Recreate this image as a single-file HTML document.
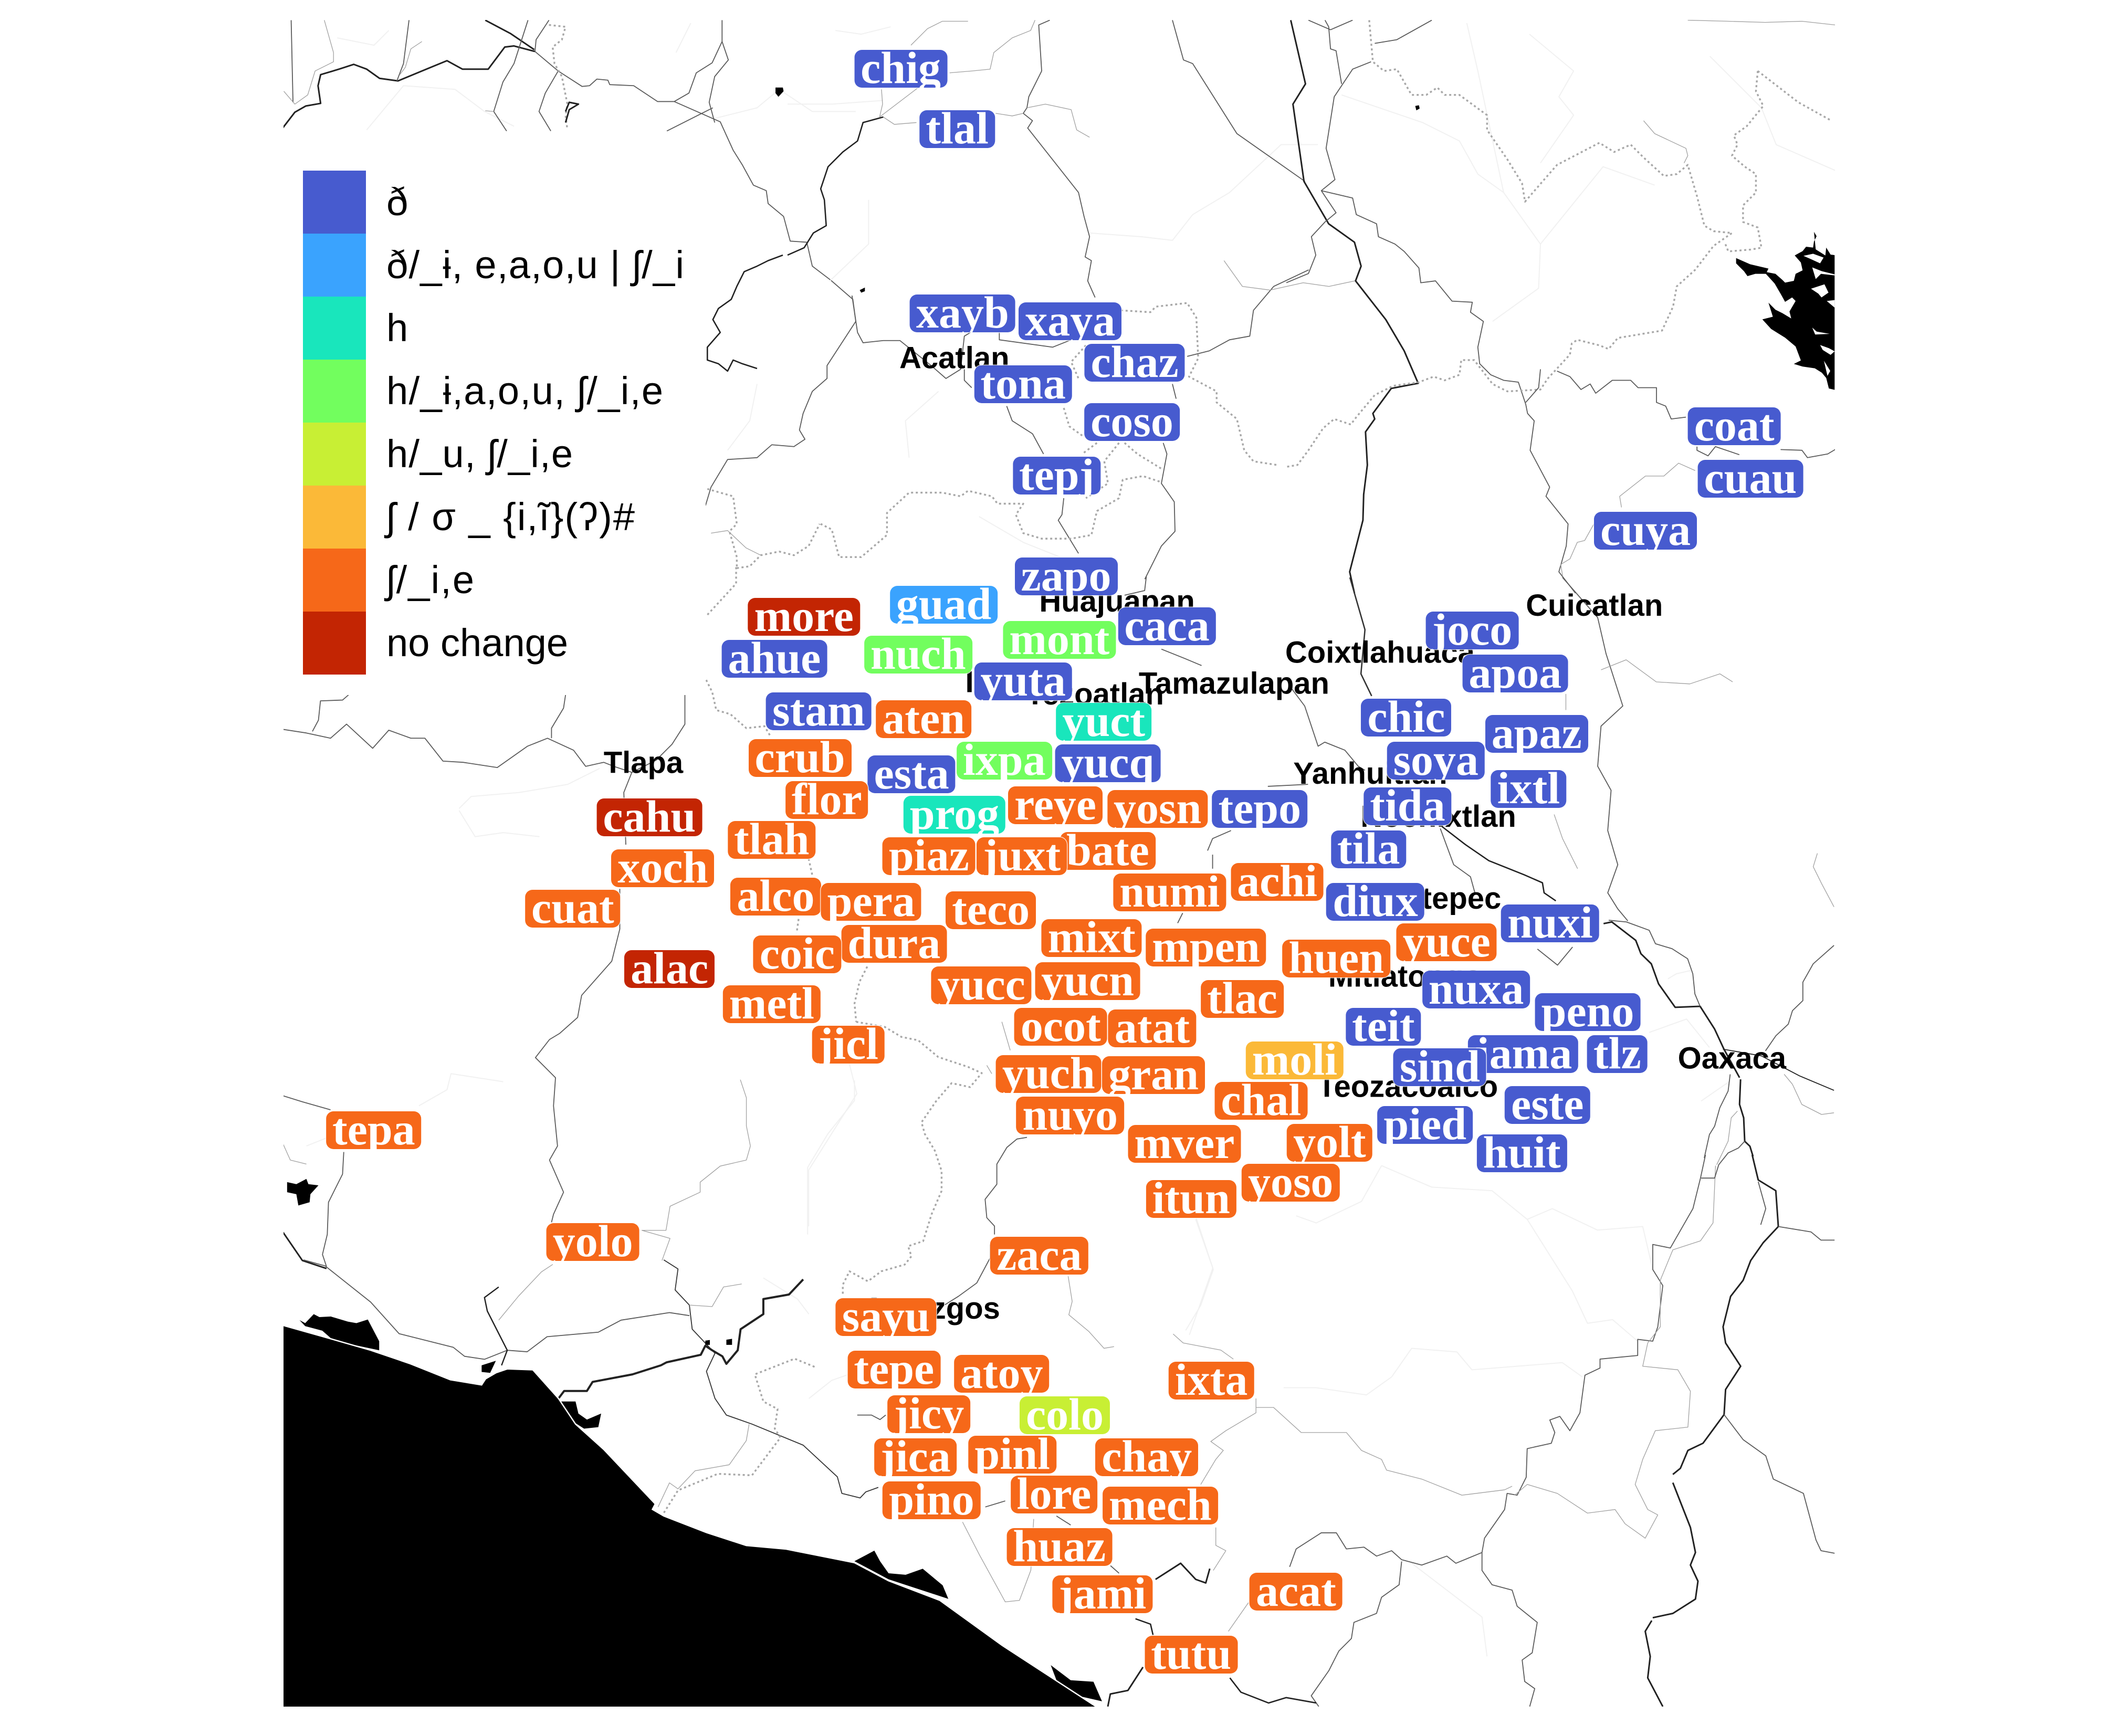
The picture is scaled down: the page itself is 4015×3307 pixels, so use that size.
<!DOCTYPE html>
<html lang="en">
<head>
<meta charset="utf-8">
<title>Dialect map</title>
<style>
html,body{margin:0;padding:0;background:#fff}
#stage{position:relative;width:4015px;height:3307px;overflow:hidden;background:#fff}
#map{position:absolute;left:0;top:0}
#map polyline{fill:none;vector-effect:non-scaling-stroke;stroke-linejoin:round}
.k{stroke:#222;stroke-width:3}
.m{stroke:#5a5a5a;stroke-width:1.8}
.t{stroke:#a0a0a0;stroke-width:1.3}
.d{stroke:#a8a8a8;stroke-width:3.4;stroke-dasharray:4 5}
.f{stroke:#f1f1f1;stroke-width:2}
.city{font:bold 58px "Liberation Sans",sans-serif;fill:#000}
.leg{font:74px "Liberation Sans","DejaVu Sans",sans-serif;fill:#000}
.lab{position:absolute;height:72px;padding:0 12px;border-radius:14px;color:#fff;
font:bold 86px/68px "Liberation Serif",serif;overflow:hidden;white-space:nowrap;
box-shadow:0 0 0 1.5px rgba(255,255,255,.75)}
</style>
</head>
<body>
<div id="stage">
<svg id="map" width="4015" height="3307" viewBox="0 0 4015 3307" xmlns="http://www.w3.org/2000/svg">
<defs><clipPath id="mapclip"><rect x="540" y="38" width="2955" height="3213"/></clipPath></defs>
<g clip-path="url(#mapclip)">

<g transform="translate(530,30) scale(.7015)">
<polyline class="f" points="160,60 260,80 300,40"/>
<polyline class="f" points="240,310 340,190 480,200 560,260 640,300"/>
<polyline class="f" points="1080,100 1120,20"/>
<polyline class="f" points="1180,280 1300,250 1360,200 1450,260 1568,260"/>
<polyline class="f" points="1300,1000 1280,1100 1220,1180"/>
<polyline class="k" points="12,305 45,262 75,245 115,238 108,190 115,160 165,145 205,132 240,145 275,170 325,177 390,150 458,122 500,145 570,145 615,85 640,82 697,97"/>
<polyline class="k" points="562,12 630,48 695,92"/>
<polyline class="m" points="697,97 700,65 735,12"/>
<polyline class="m" points="697,97 760,150 825,192 845,190 865,172 895,175 900,187 965,190 1030,233 1075,233 1200,288 1235,365 1260,405 1290,460 1325,475 1330,510 1372,545 1390,612 1435,615"/>
<polyline class="m" points="1075,233 1115,210 1135,155 1178,128 1205,70 1205,12"/>
<polyline class="m" points="1205,70 1222,120 1185,165 1170,235 1185,290"/>
<polyline class="m" points="1055,313 1150,265 1180,250"/>
<polyline class="m" points="35,12 40,235"/>
<polyline class="t" points="125,12 150,100 150,125 100,150 80,215 45,240 15,205"/>
<polyline class="m" points="355,12 340,130 322,177"/>
<polyline class="t" points="390,70 360,90 345,140 330,160"/>
<polyline class="m" points="678,12 640,130 610,180 585,260 620,313"/>
<polyline class="m" points="760,150 725,210 708,260 740,313"/>
<polyline class="t" points="585,260 562,258"/>
<polyline class="d" points="735,25 780,30 770,65 745,85 750,130 770,165 785,240 780,270 785,310"/>
<polyline class="k" points="780,260 790,235 815,240 790,255 780,290"/>
<polyline class="k" style="stroke-width:2.6" points="1370,650 1330,665 1300,680 1265,695 1245,735 1230,770 1195,795 1180,825 1200,860 1165,900 1165,935 1195,945 1220,965 1235,935 1260,945 1300,958"/>
<polyline class="m" points="1435,615 1450,680 1500,718 1560,770 1568,830 1490,950 1490,985 1450,1020 1425,1080 1415,1125 1430,1150 1400,1170 1340,1165 1300,1200 1220,1205 1175,1280 1160,1330"/>
<polyline class="d" points="1165,1285 1235,1305 1245,1380 1225,1400 1245,1470 1245,1500"/>
<polyline class="d" points="1245,1500 1280,1495 1310,1465 1360,1455 1400,1465 1440,1440 1470,1380"/>
<polyline class="t" points="1175,1405 1220,1398 1270,1445 1310,1465"/>
<polygon fill="#000" points="1350,195 1370,195 1372,205 1358,220 1350,210"/>
</g>

<g transform="translate(1500,30) scale(.7015)">
<polyline class="f" points="0,240 120,240 260,230"/>
<polyline class="f" points="130,40 200,50 280,30"/>
<polyline class="f" points="220,500 220,620 115,720"/>
<polyline class="f" points="820,590 960,600 1045,610 1100,540 1200,480 1340,350 1440,350"/>
<polyline class="f" points="330,1200 320,1100 410,1020"/>
<polyline class="f" points="520,1360 640,1430 740,1470"/>
<polyline class="k" style="stroke-width:2.6" points="0,650 45,630 70,590 105,570 100,500 90,470 110,410 150,370 190,340 205,290 260,275"/>
<polyline class="t" points="260,275 290,295 350,290"/>
<polyline class="t" points="255,200 258,240 250,275"/>
<polyline class="t" points="335,80 380,35 420,15 490,15"/>
<polyline class="t" points="250,275 355,195"/>
<polyline class="t" points="440,155 500,150 550,145 560,100 610,60 660,40 672,12"/>
<polyline class="m" points="712,12 682,25 690,150 655,220 650,250 640,265 665,285 652,305 790,480 805,545 820,600 808,655 825,665 815,720 835,765"/>
<polyline class="t" points="650,250 700,240 770,255 785,310 820,330"/>
<polyline class="t" points="565,265 610,272 640,265"/>
<polyline class="m" points="175,760 190,860 205,888 260,882 305,882 390,950 430,985 470,960 480,870 505,855"/>
<polyline class="m" points="480,960 480,990 500,1010"/>
<polyline class="m" points="575,860 575,880 720,900 770,880"/>
<polyline class="m" points="595,1060 610,1100 665,1135 695,1190"/>
<polyline class="m" points="750,1310 745,1355 735,1370 790,1460"/>
<polyline class="m" points="1045,12 1075,120 1100,130 1220,320 1405,450"/>
<polyline class="m" points="1415,690 1320,735 1265,800 1255,870 1200,880 1145,910 1085,925"/>
<polyline class="t" points="1185,665 1235,735 1310,745"/>
<polyline class="t" points="1310,745 1400,725 1470,735 1540,720"/>
<polyline class="m" points="1045,1000 1055,1040"/>
<polyline class="m" points="1020,1160 1030,1190 1015,1270 1050,1320 1052,1400 1015,1440 970,1530"/>
<polyline class="d" points="905,800 985,805 1000,790 1085,780 1110,820 1115,930 1090,980 1165,1020 1165,1050 1220,1095 1240,1180 1265,1210 1330,1220"/>
<polyline class="d" points="810,895 770,940 790,985"/>
<polyline class="d" points="750,1065 765,1115 800,1140"/>
<polyline class="d" points="840,1160 800,1190"/>
<polyline class="d" points="900,1160 860,1210 870,1270 810,1310"/>
<polyline class="d" points="915,1160 950,1190 1015,1230"/>
<polyline class="d" points="1010,1265 965,1250 910,1260 900,1310 840,1345 825,1410 770,1420 690,1420 640,1405 620,1355 640,1325 570,1325 555,1305 490,1290 470,1305 420,1295 330,1295 270,1350 270,1410 200,1470 140,1470 120,1395 90,1380"/>
<polygon fill="#000" points="196,745 210,738 210,748 200,752"/>
</g>

<g transform="translate(2450,30) scale(.7015)">
<polyline class="f" points="490,20 520,150 590,480 690,620 685,740 560,830"/>
<polyline class="f" points="690,620 860,410 1000,460"/>
<polyline class="f" points="660,50 780,150 740,220 780,270 690,400"/>
<polyline class="f" points="1150,110 1290,250 1330,350 1490,420"/>
<polyline class="f" points="150,215 370,290 470,340 520,430 590,480"/>
<polyline class="k" points="12,12 52,185 18,240 48,450 115,565 185,615 203,680 188,720 270,825 320,910 358,998 285,1012 235,1080 240,1095 215,1130 220,1220 210,1300 208,1370 172,1510 185,1568"/>
<polyline class="m" points="105,12 115,30 120,90 135,95 150,185"/>
<polyline class="m" points="60,12 120,38 180,12"/>
<polyline class="m" points="230,125 180,145 130,220 108,360 132,445 95,475 135,535 105,560 68,600 80,650 60,700 0,725"/>
<polyline class="m" points="95,475 180,495 190,540 245,565 250,600 295,620 320,640 360,685 365,725 405,720 450,775 505,778 500,805 535,830 520,900 525,945 555,975 590,990 630,995 650,1055 655,1080 673,1100 662,1180 715,1280 705,1305 765,1380 760,1440 740,1510 785,1568"/>
<polyline class="m" points="240,75 300,65 395,12"/>
<polyline class="d" points="225,12 235,125 265,150 300,145 340,215 380,215 410,195 430,215 470,215 545,270 545,310 600,390 640,455 648,505 700,445 735,405 850,345 890,370 935,350 970,385 1025,435 1060,430 1090,405 1115,490 1135,570 1160,585 1210,590 1160,625 1110,690 1060,735 1050,790 1020,855 900,875 875,905 850,895 790,880 775,890 770,920 710,985 690,1015 600,1020 560,1000 510,935 475,935 470,975 430,990 400,980 360,995 290,1005 240,1030 190,1090 175,1110 130,1095 100,1120 60,1180 30,1220 0,1225"/>
<polyline class="d" points="1280,150 1275,205 1295,245 1250,300 1215,325 1225,350 1210,380 1245,410 1275,430 1275,480 1240,515 1240,560 1280,575 1290,630 1260,635 1200,640 1190,615"/>
<polyline class="d" points="1280,150 1390,235 1480,285"/>
<polyline class="m" points="690,960 685,1010 650,1050"/>
<polyline class="m" points="735,965 770,980 800,1015 825,1000 840,1025 885,990 935,990 955,1010 1005,1010 1005,1050 1030,1060 1045,1095 1085,1090"/>
<polyline class="t" points="970,285 1000,320 1085,360 1090,380 1080,400"/>
<polyline class="m" points="1115,1170 1115,1180 1145,1195 1165,1170 1230,1192"/>
<polyline class="m" points="1342,1178 1400,1180 1415,1200 1470,1190 1490,1178"/>
<polyline class="t" points="1090,12 1200,15 1300,18 1400,15 1490,25"/>
<polyline class="t" points="1110,1235 1065,1215 1025,1250 975,1250 905,1305 910,1335"/>
<polyline class="t" points="835,1380 810,1425 790,1430 770,1475 745,1490 750,1520"/>
<polygon fill="#000" points="350,245 360,243 362,252 353,257"/>
</g>

<g transform="translate(3200,400) scale(.3333)">
<polygon fill="#000" points="320,275 400,310 505,335 495,355 545,365 585,400 600,415 650,405 660,365 700,345 690,300 655,260 700,235 720,210 760,215 765,180 780,150 765,125 775,225 830,260 835,215 860,255 883,258 883,1028 850,1020 835,960 810,930 770,905 700,895 650,880 690,860 660,780 600,730 520,680 470,625 530,610 505,530 545,570 585,590 635,620 625,580 660,520 640,500 600,525 575,480 540,420 490,365 430,365 385,378 365,350 340,325 320,305"/>
<polygon fill="#fff" points="705,262 760,250 820,272 800,305 750,282"/>
<polygon fill="#fff" points="755,328 810,350 883,368 883,374 805,365 775,395"/>
<polygon fill="#fff" points="748,450 825,425 848,472 808,500 790,478"/>
<polygon fill="#fff" points="838,520 883,515 883,558"/>
<polygon fill="#fff" points="755,672 780,695 855,708 772,712"/>
<polygon fill="#fff" points="800,772 850,790 883,808 860,828 815,800"/>
<polygon fill="#fff" points="822,862 858,920 842,948"/>
</g>

<g transform="translate(530,1280) scale(.7653)">
<polyline class="f" points="450,340 480,310 600,300 720,280 800,240"/>
<polyline class="f" points="450,345 490,410 560,400 650,410"/>
<polyline class="f" points="350,1080 420,1040 430,1000 560,1020"/>
<polyline class="f" points="70,1180 120,1160"/>
<polyline class="f" points="1320,1380 1320,1240 1440,1050 1420,970"/>
<polyline class="m" points="175,57 160,70 105,72 100,120 85,148"/>
<polyline class="m" points="12,143 70,152 130,165 170,130 235,190 275,145 330,165 365,165 410,222 460,225 545,238 620,185 670,165 735,195 765,235 810,225 835,235 880,250 860,300 865,430"/>
<polyline class="m" points="715,57 710,90 680,140 680,165"/>
<polyline class="m" points="1012,57 1012,130 980,180 940,220 880,250"/>
<polyline class="m" points="850,540 850,640 830,720 755,805 745,860 700,900 675,915 640,960 690,1010 685,1080 695,1180 675,1215 710,1295 685,1350 680,1370"/>
<polyline class="m" points="12,1055 60,1070 130,1090"/>
<polyline class="m" points="163,1195 160,1250 125,1320 122,1400 110,1450 120,1480"/>
<polyline class="t" points="12,1175 30,1215 70,1225"/>
<polyline class="k" points="12,1395 60,1465 120,1485"/>
<polygon fill="#000" points="22,1270 45,1275 70,1262 75,1275 100,1278 80,1300 78,1320 50,1328 45,1300 22,1295"/>
<polyline class="t" points="1150,1015 1165,1060 1165,1130 1175,1180 1165,1215 1100,1230 1050,1270 1050,1295 975,1330 965,1390 905,1390 975,1410 955,1465"/>
<polyline class="d" points="1065,20 1080,50 1090,95 1125,105 1165,140 1210,135 1225,160"/>
<polyline class="d" points="1320,465 1330,510"/>
<polyline class="d" points="1295,615 1290,650"/>
</g>

<g transform="translate(1500,1650) scale(.6378)">
<polyline class="f" points="60,1100 60,900 120,800 200,700 200,640"/>
<polyline class="f" points="1220,1050 1270,1200 1200,1400"/>
<polyline class="d" points="205,465 290,480 340,510 390,520 450,570 540,600 580,618 545,660 490,648 445,700 400,765 410,800 440,850 460,910 460,970 430,1040 405,1120 360,1135 370,1165 350,1190 280,1210 240,1240 185,1210 165,1250 165,1280"/>
<polyline class="d" points="238,300 215,345 200,410 205,465"/>
<polyline class="m" points="715,810 685,815 655,840 625,890 625,950 590,995 595,1050 618,1075 618,1100"/>
<polyline class="m" points="605,1130 605,1170 565,1245 510,1285 470,1310"/>
<polyline class="t" points="838,1225 850,1300 840,1340 900,1390 945,1440 975,1435"/>
<polyline class="t" points="640,465 665,550"/>
<polyline class="t" points="595,595 610,620"/>
<polyline class="m" points="1180,140 1165,170"/>
</g>

<g transform="translate(2000,2200) scale(.9566,.6824)">
<polyline class="f" points="950,180 1040,380 1070,470 1120,460 1170,520"/>
<polyline class="f" points="680,620 720,540 810,550 840,600 1020,580 1060,620"/>
<polyline class="f" points="660,30 760,90 880,100 950,180 1000,150 1090,210 1180,200 1200,320"/>
<polyline class="f" points="465,650 530,650 630,670 680,620"/>
<polyline class="f" points="490,170 530,190 620,130 660,30"/>
<polyline class="f" points="290,180 325,320 300,420 270,490"/>
<polyline class="f" points="720,1140 860,1290 870,1400"/>
<polyline class="m" points="1305,0 1295,65 1280,150 1235,260 1200,250 1200,320 1220,365 1210,480 1200,520 1170,515 1170,560 1095,570 1095,595 1065,615 1055,720 1035,770 1015,730 995,740 1005,775 998,805 950,820 948,900 930,950 910,945 905,990 890,1020 865,1070 860,1110 808,1140 790,1120 740,1145 700,1130 680,1105 650,1120 625,1095 590,1100 570,1055 540,1055 490,1100 477,1150"/>
<polyline class="m" points="700,1135 695,1200 660,1235 650,1280 605,1305 600,1350 575,1385 555,1440 520,1510 535,1540"/>
<polyline class="m" points="860,1110 860,1160 880,1200 920,1215 930,1260 970,1305 960,1390 940,1410 945,1470 965,1490 955,1540"/>
<polyline class="k" points="1398,0 1410,70 1445,100 1450,200 1420,245 1395,295 1380,350 1355,395 1340,480 1345,525 1375,590 1345,655 1342,725 1300,805 1270,825 1255,875 1240,892"/>
<polyline class="k" points="1240,915 1275,1040 1285,1110 1275,1145 1290,1190 1285,1240 1240,1280 1200,1292"/>
<polyline class="k" points="1198,1300 1185,1330 1195,1400 1190,1460 1220,1540"/>
<polyline class="m" points="1342,725 1380,795 1425,840 1440,905 1500,945 1525,1075 1535,1105 1562,1112"/>
<polyline class="m" points="1450,200 1515,215 1535,238 1562,238"/>
<polyline class="m" points="1410,75 1425,150 1415,195"/>
<polyline class="t" points="1325,30 1320,190 1295,240 1240,265 1215,350 1215,480 1190,525 1180,590 1250,600 1275,660 1270,760 1205,770 1180,850 1165,920 1190,990 1210,1005 1185,1070 1145,1030 1125,990 1070,1000 1010,945 950,920 925,950"/>
<polyline class="t" points="410,680 410,720 350,770 320,800 345,825 330,850 300,920"/>
<polyline class="t" points="410,705 445,705 500,775 590,775 620,825 660,850 670,880 740,905 820,950 905,935 920,925"/>
<polyline class="t" points="245,500 265,525 340,545 365,570"/>
<polyline class="t" points="330,1040 330,1090 350,1105 325,1160"/>
<polyline class="k" points="210,1185 260,1140 290,1185 310,1195 318,1155"/>
<polyline class="t" points="395,1250 355,1330"/>
<polyline class="k" style="stroke-width:2.6" points="358,1460 380,1500 435,1530 470,1515 530,1530"/>
<polyline class="k" style="stroke-width:2.6" points="170,1295 200,1310 205,1340"/>
<polyline class="k" points="185,1430 155,1495 120,1505 115,1540"/>
</g>

<g transform="translate(2900,1600) scale(.3954,.6378)">
<polyline class="f" points="700,415 740,400 810,390"/>
<polyline class="f" points="610,575 790,535 900,620"/>
<polyline class="f" points="860,780 1000,720"/>
<polyline class="k" points="390,250 430,245 545,300 570,340 620,370 655,430 735,500 855,497 925,565 970,625 1045,710"/>
<polyline class="m" points="855,497 830,460 820,400 795,355 720,325 640,310 610,270 500,245 415,240"/>
<polyline class="k" points="1050,715 1045,790 1065,830 1070,900 1095,915 1110,945"/>
<polyline class="m" points="1000,700 990,750 950,800 925,855 900,880 875,950"/>
<polyline class="m" points="860,1010 925,1010 945,970 990,935 1040,920 1070,900"/>
<polyline class="m" style="stroke:#222" points="965,625 1150,645 1335,705 1500,748"/>
<polyline class="m" points="1500,315 1400,370 1350,425 1350,480 1300,510 1280,550 1220,585 1170,630"/>
<polyline class="t" points="1420,40 1400,80 1440,130 1500,200"/>
<polyline class="t" points="1260,700 1300,730 1345,790 1440,820 1500,815"/>
<polyline class="t" points="1035,810 1005,830 990,900 935,970"/>
</g>

<g transform="translate(2300,1100) scale(.6378,.7653)">
<polyline class="m" style="stroke:#333;stroke-width:2.6" points="425,0 470,130 458,240 490,295"/>
<polyline class="m" points="245,270 290,320 330,420 350,410 410,430 450,470 470,480"/>
<polyline class="m" points="695,625 735,715 785,745 800,790"/>
<polyline class="k" style="stroke-width:2.6" points="700,620 770,665 840,705 945,740 1000,760 1005,785 1040,805"/>
<polyline class="m" points="1060,0 1165,100 1190,190 1240,320 1175,370 1165,470 1205,530 1195,630 1225,715 1195,785 1225,825 1255,855"/>
<polyline class="m" points="0,680 15,650 70,630"/>
<polyline class="m" points="15,690 15,725"/>
<polyline class="m" points="180,520 300,515"/>
<polyline class="t" points="1175,230 1250,205 1340,260 1440,265 1530,240 1568,260"/>
<polyline class="t" points="1070,290 1070,330"/>
<polyline class="t" points="1035,590 1060,650 1105,725"/>
<polyline class="m" points="985,925 1045,965 1090,920"/>
</g>

<g transform="translate(1300,1000) scale(.6378,.4464)">
<polyline class="d" points="160,180 160,250 70,390"/>
<polyline class="m" points="1385,220 1380,280 1320,300"/>
<polyline class="m" points="1430,530 1500,570 1550,600"/>
</g>

<g transform="translate(500,2400) scale(1.084,.574)">
<polyline class="f" points="880,60 940,130 960,180"/>
<polyline class="f" points="960,460 1000,400 1030,380"/>
<polyline class="m" points="72,0 110,20 190,140 240,245 335,290 355,320 390,330 430,300 465,305 500,255 590,240 630,200 715,175 750,185"/>
<polyline class="k" style="stroke-width:2.4" points="415,90 390,125 395,170 430,300 420,350"/>
<polyline class="t" points="415,200 450,120 490,40 510,15"/>
<polyline class="m" style="stroke:#333" points="705,0 730,30 725,100 750,150 755,230 795,310 780,370 795,460 815,515 860,545 950,615 1010,720 1018,775 1050,790 1060,770 1082,755"/>
<polyline class="t" points="750,150 790,155 810,90 842,80"/>
<polyline class="k" style="stroke-width:4" points="950,65 925,115 880,130 880,180 840,230 835,300 815,345 808,320 790,300 778,285 770,315 710,340 700,350 650,380 580,405 570,435 530,435 520,460"/>
<polyline class="t" points="855,545 850,600 820,680 760,700 730,760 715,740 695,820"/>
<polyline class="d" points="970,355 935,328 865,380 880,470 905,495 900,560 910,590 860,715 800,710 730,765 705,840"/>
<polyline class="m" points="1045,515 1070,515 1085,530 1095,515"/>
<polyline class="m" points="1270,820 1305,800"/>
<polyline class="m" points="1395,850 1420,880"/>
<polyline class="t" points="1230,870 1260,980 1305,1135 1330,1130 1350,1030 1355,860"/>
<polyline class="m" points="1490,1015 1505,1040"/>
<polygon fill="#000" points="65,200 75,210 90,180 100,190 120,188 150,205 165,210 185,198 205,270 205,300 125,268 105,235 75,220"/>
<polygon fill="#000" points="525,470 550,470 555,510 570,530 595,510 590,555 565,560 540,530"/>
<polygon fill="#000" points="1040,1000 1075,965 1085,1000 1100,1040 1130,1045 1160,1025 1195,1080 1205,1125 1100,1060"/>
<polygon fill="#000" points="1385,1345 1420,1395 1460,1400 1475,1465 1440,1450 1395,1395"/>
<polygon fill="#000" points="385,350 410,335 400,375 385,372"/>
<polygon fill="#000" stroke="#fff" stroke-width="2.5" vector-effect="non-scaling-stroke" points="20,218 37,218 120,262 190,300 260,345 330,398 385,415 392,395 410,375 430,362 475,365 520,460 550,545 600,630 690,810 685,828 705,850 780,905 850,948 920,960 1040,1005 1100,1065 1190,1130 1300,1280 1465,1483 1465,1520 20,1520"/>
<polygon fill="#000" points="815,265 825,262 825,282 815,282"/>
<polygon fill="#000" points="778,268 786,266 786,282 778,282"/>
</g>
</g>
<rect x="530" y="250" width="814" height="1074" fill="#fff"/>
<g id="cities"></g>
<g id="legend"></g>
</svg>
<div id="labels"></div>
</div>
<script>
// Legend data
var legendEntries = ["ð", "ð/_ɨ, e,a,o,u | ʃ/_i", "h", "h/_ɨ,a,o,u, ʃ/_i,e", "h/_u, ʃ/_i,e", "ʃ / σ _ {i,ĩ}(ʔ)#", "ʃ/_i,e", "no change"];
var legendColors = ["#475BCF", "#3AA3FE", "#19E6BC", "#72FE5E", "#C8EF34", "#FBB938", "#F66819", "#C32503"];
var legendTextFit = [0, 567, 0, 527, 355, 473, 167, 346];

// Doculect data: name, sound-change group, map grid position (east, south)
var labelNames = [
"chig","tlal","xayb","xaya","chaz","tona","coso","tepj","coat","cuau",
"cuya","zapo","guad","more","caca","mont","nuch","ahue","yuta","stam",
"aten","yuct","crub","ixpa","yucq","esta","flor","prog","reye","yosn",
"tepo","cahu","tlah","piaz","bate","juxt","xoch","alco","pera","numi",
"achi","cuat","teco","diux","tila","tida","soya","chic","joco","apoa",
"apaz","ixtl","nuxi","yuce","huen","mpen","mixt","dura","coic","alac",
"yucc","yucn","metl","nuxa","tlac","ocot","atat","teit","peno","jama",
"tlz","jicl","moli","sind","yuch","gran","este","chal","nuyo","pied",
"tepa","mver","yolt","huit","yoso","itun","yolo","zaca","sayu","tepe",
"atoy","ixta","jicy","colo","jica","pinl","chay","pino","lore","mech",
"huaz","jami","acat","tutu"];
var labelGroups = [
0,0,0,0,0,0,0,0,0,0,
0,0,1,7,0,3,3,0,0,0,
6,2,6,3,0,0,6,2,6,6,
0,7,6,6,6,6,6,6,6,6,
6,6,6,0,0,0,0,0,0,0,
0,0,0,6,6,6,6,6,6,7,
6,6,6,0,6,6,6,0,0,0,
0,6,5,0,6,6,0,6,6,0,
6,6,6,0,6,6,6,6,6,6,
6,6,6,4,6,6,6,6,6,6,
6,6,6,6];
var labelEast = [
670,712,716,796,844,761,842,786,1290,1302,
1224,793,702,598,868,788,683,576,761,609,
687,821,595,747,824,678,615,710,785,861,
937,483,574,691,824,760,493,577,648,870,
950,426,737,1023,1018,1047,1068,1046,1095,1127,
1143,1137,1153,1076,994,897,812,665,593,498,
730,809,574,1098,924,789,857,1029,1181,1133,
1203,631,963,1071,780,858,1151,938,796,1060,
278,881,989,1132,960,886,441,773,659,665,
745,901,691,792,681,753,853,693,784,863,
788,820,964,886];
var labelSouth = [
51,96,233,239,270,286,314,354,317,356,
395,429,450,459,466,476,487,490,507,529,
535,537,564,566,568,576,595,606,599,602,
602,608,625,637,633,637,646,667,671,664,
656,676,677,671,632,600,566,534,469,501,
546,587,687,701,713,705,698,702,710,721,
733,730,747,736,743,764,765,764,753,784,
784,777,789,794,799,800,822,819,830,837,
841,851,850,858,880,892,924,934,980,1019,
1022,1027,1052,1053,1084,1082,1084,1116,1112,1120,
1151,1186,1184,1231];

// City data: name, map grid position of text start (east) and baseline (south)
var cityNames = ["Acatlan","Huajuapan","Cuicatlan","Coixtlahuaca","Tamazulapan","Ixtlan","Tezoatlan","Tlapa","Yanhuitlan","Nochixtlan","Jaltepec","Mitlatongo","Teozacoalco","Oaxaca","Amuzgos"];
var cityEast = [669,773,1135,956,847,718,763,449,962,1012,1026,988,980,1248,642];
var citySouth = [274,455,458,493,516,515,524,575,583,615,676,734,816,795,981];

// Map grid to page axis functions
var GRID = 2.5606;
function xAxis(v){ return v * GRID; }
function yAxis(v){ return v * GRID; }

var SVGNS = "http://www.w3.org/2000/svg";

// Cities
var cityLayer = document.getElementById("cities");
cityNames.forEach(function(name, i){
  var el = document.createElementNS(SVGNS, "text");
  el.setAttribute("class", "city");
  el.setAttribute("x", xAxis(cityEast[i]));
  el.setAttribute("y", yAxis(citySouth[i]));
  
  
  el.textContent = name;
  cityLayer.appendChild(el);
});

// Legend
var legendLayer = document.getElementById("legend");
var LEG_X = 577, LEG_Y = 325, LEG_W = 120, LEG_H = 120, LEG_TX = 736;
legendEntries.forEach(function(text, i){
  var sw = document.createElementNS(SVGNS, "rect");
  sw.setAttribute("x", LEG_X);
  sw.setAttribute("y", LEG_Y + i * LEG_H);
  sw.setAttribute("width", LEG_W);
  sw.setAttribute("height", LEG_H);
  sw.setAttribute("fill", legendColors[i]);
  
  
  legendLayer.appendChild(sw);
  var t = document.createElementNS(SVGNS, "text");
  t.setAttribute("class", "leg");
  t.setAttribute("x", LEG_TX);
  t.setAttribute("y", LEG_Y + i * LEG_H + LEG_H / 2 + 25);
  if (legendTextFit[i]) {
    t.setAttribute("textLength", legendTextFit[i]);
    t.setAttribute("lengthAdjust", "spacing");
  }
  
  
  t.textContent = text;
  legendLayer.appendChild(t);
});

// Doculect labels
var labelLayer = document.getElementById("labels");
labelNames.forEach(function(name, i){
  var d = document.createElement("div");
  d.className = "lab";
  d.style.left = xAxis(labelEast[i]) + "px";
  d.style.top = (yAxis(labelSouth[i]) - 36) + "px";
  d.style.transform = "translateX(-50%)";
  d.style.background = legendColors[labelGroups[i]];
  
  
  d.textContent = name;
  labelLayer.appendChild(d);
});
</script>
</body>
</html>
